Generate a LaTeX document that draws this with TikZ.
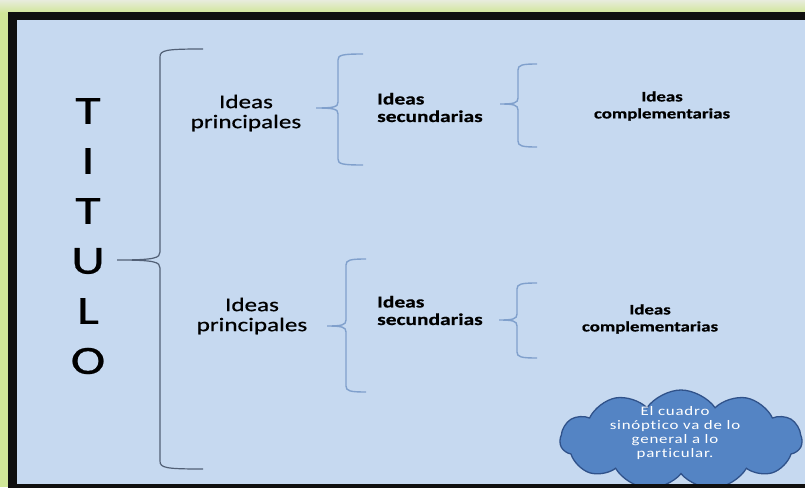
\documentclass[tikz,border=0pt]{standalone}
\usepackage{fontspec}
\setmainfont{Carlito}[FakeStretch=1.3, FakeBold=0.6, Ligatures=NoCommon]
\newfontfamily\nubefont{Carlito}[FakeStretch=1.3, LetterSpace=6, Ligatures=NoCommon]
\usetikzlibrary{shapes.symbols}
\definecolor{fondo}{RGB}{198,217,240}
\definecolor{marco}{RGB}{15,15,15}
\definecolor{verdeclaro}{RGB}{232,236,220}
\definecolor{verde}{RGB}{208,230,152}
\definecolor{llaveoscura}{RGB}{82,96,118}
\definecolor{llaveazul}{RGB}{128,160,204}
\definecolor{nubeazul}{RGB}{84,132,196}
\definecolor{nubeborde}{RGB}{48,82,138}
\tikzstyle{letra}=[font=\fontsize{40}{40}\selectfont, inner sep=0pt]
\tikzstyle{principal}=[font=\fontsize{19.3}{20}\selectfont, align=center, inner sep=0pt]
\tikzstyle{secundaria}=[font=\fontsize{16.5}{17.5}\selectfont\bfseries, align=left, inner sep=0pt]
\tikzstyle{complementaria}=[font=\fontsize{14.5}{17}\selectfont\bfseries, align=center, inner sep=0pt]
\tikzstyle{llave}=[draw=llaveazul, line width=1.4pt]
\tikzstyle{llavegrande}=[draw=llaveoscura, line width=1.2pt]

\begin{document}
\begin{tikzpicture}[x=1pt, y=-1pt]
    \useasboundingbox (0,0) rectangle (805,487);
    % background and frame
    \fill[verde] (0,0) rectangle (805,487);
    \shade[top color=verdeclaro, bottom color=verde] (0,0) rectangle (805,13);
    \fill[fondo] (12,16) rectangle (815,490);

    % the title, one letter under the other
    \foreach \letra [count=\i] in {T,I,T,U,L,O}
        \node[letra] (t\i) at (88, 61+50*\i) {\letra};

    % big brace
    \draw[llavegrande] (203,49) .. controls (166,49) and (160,50) .. (160,57) -- (160,252)
        .. controls (160,258) and (155,260) .. (117,260)
        .. controls (155,260) and (160,262) .. (160,268) -- (160,461)
        .. controls (160,468) and (166,469) .. (203,469);

    % the ideas
    \node[principal] (p1) at (246,113) {Ideas\\principales};
    \node[principal] (p2) at (252,316) {Ideas\\principales};
    \node[secundaria, anchor=west] (s1) at (377,107.5) {Ideas\\secundarias};
    \node[secundaria, anchor=west] (s2) at (377,310.5) {Ideas\\secundarias};
    \node[complementaria] (c1) at (662,106) {Ideas\\complementarias};
    \node[complementaria] (c2) at (650,319) {Ideas\\complementarias};

    % small braces
    \foreach \x/\arriba/\medio/\abajo/\brazo/\punta in {338/54/108/165/363/316, 346/259/326/392/366/327, 518/64/104/147/537/500, 517/283/320/358/537/499}
        \draw[llave] (\brazo,\arriba) .. controls (\x+4,\arriba) and (\x,\arriba+1) .. (\x,\arriba+6) -- (\x,\medio-6)
            .. controls (\x,\medio-1) and (\x-4,\medio) .. (\punta,\medio)
            .. controls (\x-4,\medio) and (\x,\medio+1) .. (\x,\medio+6) -- (\x,\abajo-6)
            .. controls (\x,\abajo-1) and (\x+4,\abajo) .. (\brazo,\abajo);

    % the cloud
    \node[cloud, cloud puffs=11, cloud puff arc=110, cloud ignores aspect, minimum width=242pt, minimum height=100pt, inner sep=0pt, fill=nubeazul, draw=nubeborde, line width=1.3pt] (nube) at (681,440) {};
    \node[font=\nubefont\fontsize{13}{13.9}\selectfont, text=white, align=center, inner sep=0pt] (nubetexto) at (675,433) {El cuadro\\sinóptico va de lo\\general a lo\\particular.};

    \draw[marco, line width=8.5pt] (12.5,16) rectangle (830,488.5);
\end{tikzpicture}
\end{document}
